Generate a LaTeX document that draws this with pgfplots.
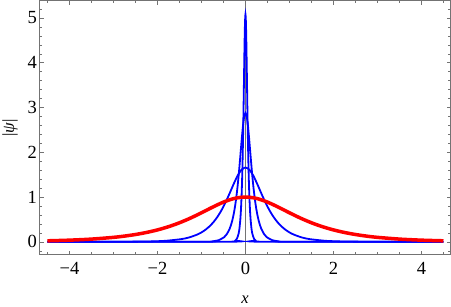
\documentclass[border=0pt]{standalone}
\usepackage{fontspec}
\setmainfont{Liberation Serif}
\usepackage{pgfplots}
\pgfplotsset{compat=1.18}
\definecolor{framegray}{gray}{0.45}
\begin{document}
\begin{tikzpicture}
\begin{axis}[name=ax,
  scale only axis, width=410.5pt, height=254pt,
  xmin=-4.68, xmax=4.66, ymin=-0.29, ymax=5.39,
  axis line style={framegray, line width=0.6pt},
  tick style={framegray, line width=0.5pt},
  tick align=inside,
  major tick length=4pt, minor tick length=2.5pt,
  xtick={-4,-2,0,2,4}, xticklabels={−4,−2,0,2,4},
  minor xtick={-4.5,-3.5,-3,-2.5,-1.5,-1,-0.5,0.5,1,1.5,2.5,3,3.5,4.5},
  ytick={0,1,2,3,4,5}, yticklabels={0,1,2,3,4,5},
  minor ytick={-0.2,0.2,0.4,0.6,0.8,1.2,1.4,1.6,1.8,2.2,2.4,2.6,2.8,3.2,3.4,3.6,3.8,4.2,4.4,4.6,4.8,5.2},
  ticklabel style={font=\fontsize{18.5}{21}\selectfont, text=black},
  xticklabel style={yshift=-4pt},
  yticklabel style={xshift=1pt},
  xlabel={\textit{x}}, ylabel={|\textit{ψ}|},
  xlabel style={at={(axis description cs:0.5,0)}, anchor=base, yshift=-49pt, font=\fontsize{16.5}{19}\selectfont},
  ylabel style={at={([xshift=-29.5pt]axis description cs:0,0.5)}, anchor=center, font=\fontsize{17}{20}\selectfont},
  clip=true,
]
\draw[framegray, line width=0.6pt] (axis cs:0,-0.29) -- (axis cs:0,5.39);
% blue curves
\addplot[blue, line width=1.8pt, smooth, tension=0.4] coordinates {
(-4.5,0) (-2.9032,0.0011) (-2.1774,0.0082) (-1.8145,0.0224) (-1.4516,0.0608) (-1.2702,0.100) (-1.0887,0.165) (-0.9980,0.211) (-0.9073,0.271) (-0.8165,0.346) (-0.7258,0.441) (-0.6351,0.560) (-0.5444,0.706) (-0.4536,0.879) (-0.3629,1.076) (-0.2722,1.282) (-0.1815,1.472) (-0.0907,1.609) (0,1.66) (0.0907,1.609) (0.1815,1.472) (0.2722,1.282) (0.3629,1.076) (0.4536,0.879) (0.5444,0.706) (0.6351,0.560) (0.7258,0.441) (0.8165,0.346) (0.9073,0.271) (0.9980,0.211) (1.0887,0.165) (1.2702,0.100) (1.4516,0.0608) (1.8145,0.0224) (2.1774,0.0082) (2.9032,0.0011) (4.5,0)
};
\addplot[blue, line width=1.8pt, smooth, tension=0.4] coordinates {
(-4.5,0) (-0.9646,0.0019) (-0.7234,0.0143) (-0.6029,0.0388) (-0.4823,0.105) (-0.4220,0.174) (-0.3617,0.286) (-0.3316,0.367) (-0.3014,0.470) (-0.2713,0.600) (-0.2411,0.766) (-0.2110,0.972) (-0.1809,1.224) (-0.1507,1.525) (-0.1206,1.867) (-0.0904,2.225) (-0.0603,2.554) (-0.0301,2.792) (0,2.88) (0.0301,2.792) (0.0603,2.554) (0.0904,2.225) (0.1206,1.867) (0.1507,1.525) (0.1809,1.224) (0.2110,0.972) (0.2411,0.766) (0.2713,0.600) (0.3014,0.470) (0.3316,0.367) (0.3617,0.286) (0.4220,0.174) (0.4823,0.105) (0.6029,0.0388) (0.7234,0.0143) (0.9646,0.0019) (4.5,0)
};
\addplot[blue, line width=1.8pt, smooth, tension=0.4] coordinates {
(-4.5,0) (-0.3100,0.0034) (-0.2325,0.0252) (-0.1938,0.0685) (-0.1550,0.186) (-0.1356,0.306) (-0.1163,0.504) (-0.1066,0.647) (-0.0969,0.829) (-0.0872,1.059) (-0.0775,1.350) (-0.0678,1.714) (-0.0581,2.160) (-0.0484,2.690) (-0.0388,3.292) (-0.0291,3.924) (-0.0194,4.505) (-0.0097,4.925) (0,5.08) (0.0097,4.925) (0.0194,4.505) (0.0291,3.924) (0.0388,3.292) (0.0484,2.690) (0.0581,2.160) (0.0678,1.714) (0.0775,1.350) (0.0872,1.059) (0.0969,0.829) (0.1066,0.647) (0.1163,0.504) (0.1356,0.306) (0.1550,0.186) (0.1938,0.0685) (0.2325,0.0252) (0.3100,0.0034) (4.5,0)
};
% red curve
\addplot[red, line width=3.5pt, smooth] coordinates {
(-4.5,0.0222) (-4,0.0366) (-3.5,0.0603) (-3,0.0993) (-2.75,0.1273) (-2.5,0.1631) (-2.25,0.2085) (-2,0.2658) (-1.75,0.3374) (-1.5,0.4251) (-1.25,0.5295) (-1,0.6481) (-0.75,0.7724) (-0.5,0.8868) (-0.25,0.9695) (0,1) (0.25,0.9695) (0.5,0.8868) (0.75,0.7724) (1,0.6481) (1.25,0.5295) (1.5,0.4251) (1.75,0.3374) (2,0.2658) (2.25,0.2085) (2.5,0.1631) (2.75,0.1273) (3,0.0993) (3.5,0.0603) (4,0.0366) (4.5,0.0222)
};
\end{axis}
\pgfresetboundingbox
\path[use as bounding box] ([shift={(-39.5pt,-52pt)}]ax.south west) rectangle ([shift={(0.5pt,0.5pt)}]ax.north east);
\end{tikzpicture}
\end{document}
